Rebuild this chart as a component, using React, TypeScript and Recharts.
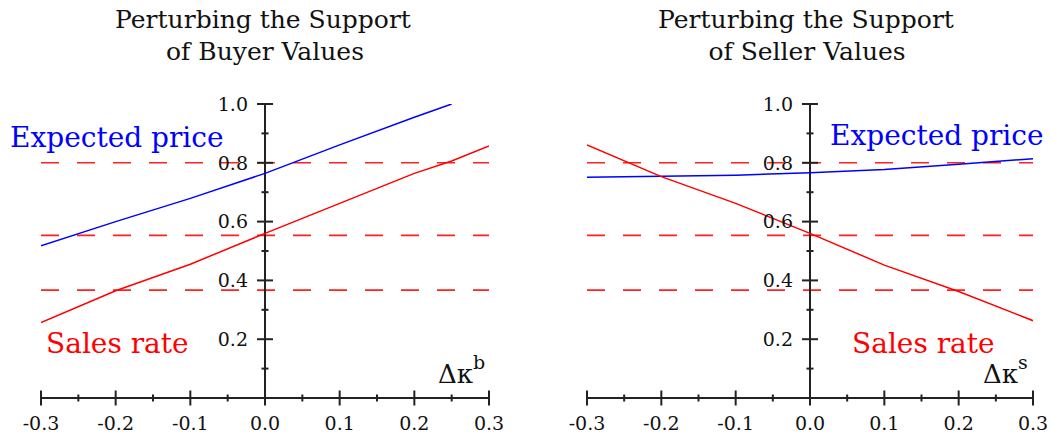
import { LineChart, Line, XAxis, YAxis, ReferenceLine } from 'recharts'

const xTicks = [-0.3, -0.25, -0.2, -0.15, -0.1, -0.05, 0, 0.05, 0.1, 0.15, 0.2, 0.25, 0.3]
const yMajor = [0.2, 0.4, 0.6, 0.8, 1.0]
const yMinor = [0.1, 0.3, 0.5, 0.7, 0.9]
const dashLevels = [0.8, 0.553, 0.367]

const buyerX = [-0.3, -0.2, -0.1, 0, 0.1, 0.2, 0.25, 0.3]
const buyerPrice = [0.518, 0.6, 0.679, 0.764, 0.861, 0.955, 1.0, null]
const buyerSales = [0.257, 0.365, 0.455, 0.56, 0.662, 0.764, 0.806, 0.857]

const sellerX = [-0.3, -0.2, -0.1, 0, 0.1, 0.2, 0.3]
const sellerPrice = [0.751, 0.754, 0.758, 0.766, 0.777, 0.795, 0.814]
const sellerSales = [0.861, 0.753, 0.662, 0.56, 0.452, 0.362, 0.263]

const buyerData = buyerX.map((x, i) => ({ x, price: buyerPrice[i], sales: buyerSales[i] }))
const sellerData = sellerX.map((x, i) => ({ x, price: sellerPrice[i], sales: sellerSales[i] }))

const AXIS = '#222'
const SERIF = 'DejaVu Serif'

const XTick = (props: any) => {
  const { x, y, payload } = props
  const v = payload.value as number
  const major = Math.abs(v * 10 - Math.round(v * 10)) < 1e-6
  const h = major ? 7.5 : 3.5
  return (
    <g>
      <line x1={x} x2={x} y1={y - h} y2={y + h} stroke={AXIS} strokeWidth={2} />
      {major && (
        <text x={x} y={y + 32} textAnchor="middle" style={{ fontFamily: SERIF }} fontSize={19} fill="#111">
          {v.toFixed(1)}
        </text>
      )}
    </g>
  )
}

interface PanelProps {
  data: { x: number; price: number | null; sales: number }[]
  left: number
  marginLeft: number
  marginRight: number
}

function Panel({ data, left, marginLeft, marginRight }: PanelProps) {
  const plotW = 525 - marginLeft - marginRight
  const half = 8 * 0.6 / plotW
  const halfMinor = 3.5 * 0.6 / plotW
  return (
    <div style={{ position: 'absolute', left, top: 0 }}>
      <LineChart
        width={525}
        height={441}
        data={data}
        margin={{ top: 104, right: marginRight, bottom: 13, left: marginLeft }}
      >
        <XAxis
          type="number"
          dataKey="x"
          domain={[-0.3, 0.3]}
          ticks={xTicks}
          interval={0}
          height={30}
          tickSize={0}
          tickMargin={0}
          tickLine={false}
          axisLine={{ stroke: AXIS, strokeWidth: 2 }}
          tick={<XTick />}
          allowDataOverflow
        />
        <YAxis type="number" domain={[0, 1]} hide width={0} allowDataOverflow />
        {dashLevels.map((v) => (
          <ReferenceLine key={'d' + v} y={v} stroke="#ff2020" strokeWidth={1.6} strokeDasharray="18 18" />
        ))}
        <ReferenceLine x={0} stroke={AXIS} strokeWidth={2} />
        {yMinor.map((v) => (
          <ReferenceLine
            key={'n' + v}
            segment={[{ x: -halfMinor, y: v }, { x: halfMinor, y: v }]}
            stroke={AXIS}
            strokeWidth={2}
          />
        ))}
        {yMajor.map((v) => (
          <ReferenceLine
            key={'m' + v}
            segment={[{ x: -half, y: v }, { x: half, y: v }]}
            stroke={AXIS}
            strokeWidth={2}
            label={{
              value: v.toFixed(1),
              position: 'left',
              offset: 9,
              fill: '#111',
              fontSize: 19,
              style: { fontFamily: SERIF },
            }}
          />
        ))}
        <Line
          type="linear"
          dataKey="price"
          stroke="#0000ff"
          strokeWidth={1.5}
          dot={false}
          isAnimationActive={false}
        />
        <Line
          type="linear"
          dataKey="sales"
          stroke="#ff0000"
          strokeWidth={1.5}
          dot={false}
          isAnimationActive={false}
        />
      </LineChart>
    </div>
  )
}

export default function App() {
  return (
    <div style={{ position: 'absolute', left: 0, top: 0, width: 1051, height: 441, background: '#fff' }}>
      <Panel data={buyerData} left={0} marginLeft={41} marginRight={36} />
      <Panel data={sellerData} left={526} marginLeft={61} marginRight={18} />
      <svg
        width={1051}
        height={441}
        style={{ position: 'absolute', left: 0, top: 0, pointerEvents: 'none' }}
      >
        <g style={{ fontFamily: SERIF }} fontSize={25} fill="#111" textAnchor="middle">
          <text x={263} y={28}>Perturbing the Support</text>
          <text x={265} y={60}>of Buyer Values</text>
          <text x={806} y={28}>Perturbing the Support</text>
          <text x={807} y={60}>of Seller Values</text>
        </g>
        <g style={{ fontFamily: SERIF }} fontSize={28}>
          <text x={10} y={147} fill="#0000ff">Expected price</text>
          <text x={46} y={353} fill="#ff0000">Sales rate</text>
          <text x={830} y={145} fill="#0000ff">Expected price</text>
          <text x={852} y={353} fill="#ff0000">Sales rate</text>
        </g>
        <g style={{ fontFamily: SERIF }} fill="#111">
          <text x={438} y={383} fontSize={26}>
            Δκ<tspan fontSize={19} dy={-14}>b</tspan>
          </text>
          <text x={983} y={383} fontSize={26}>
            Δκ<tspan fontSize={19} dy={-14}>s</tspan>
          </text>
        </g>
      </svg>
    </div>
  )
}
